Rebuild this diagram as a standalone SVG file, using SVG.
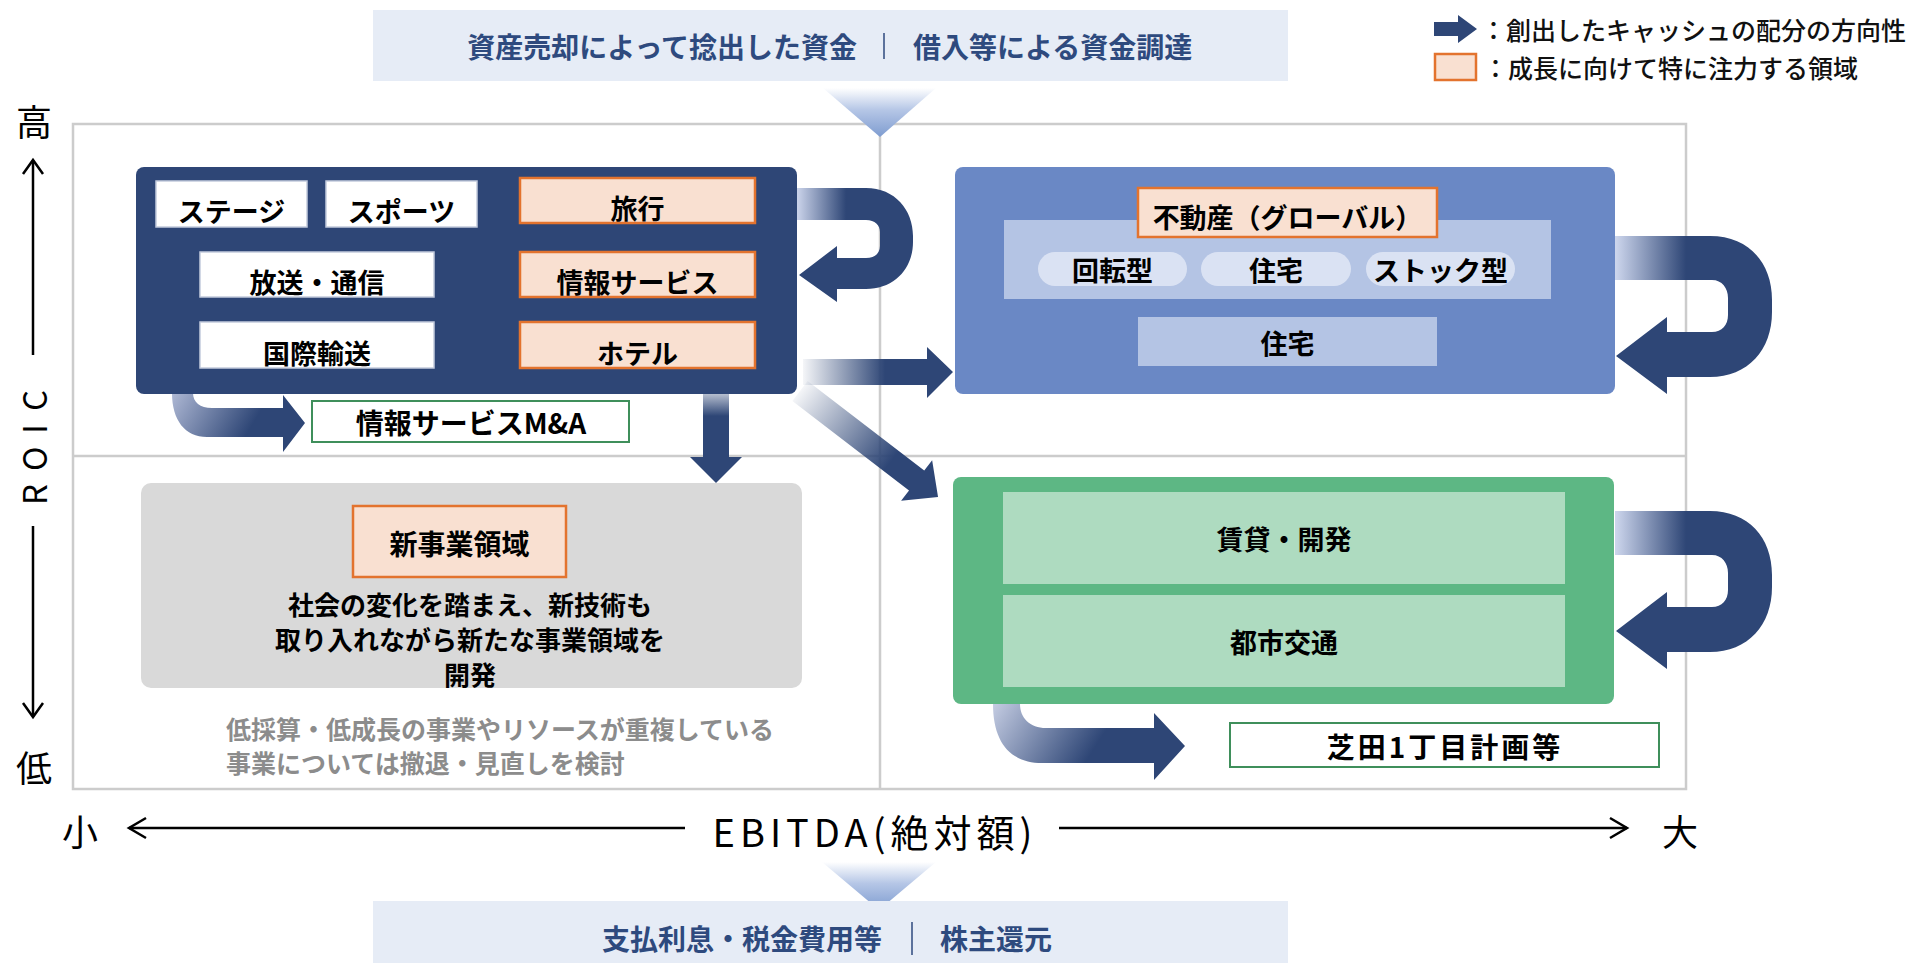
<svg xmlns="http://www.w3.org/2000/svg" width="1919" height="963" viewBox="0 0 1919 963">
<defs>
<style>
text{font-family:"Noto Sans CJK JP","Noto Sans",sans-serif;}
.lbl{font-size:27px;font-weight:700;fill:#000;text-anchor:middle;dominant-baseline:central;}
.ban{font-size:28px;font-weight:700;fill:#2E4A7E;dominant-baseline:central;}
.leg{font-size:25px;font-weight:500;fill:#111;dominant-baseline:central;}
.ax{font-size:36px;font-weight:400;fill:#000;text-anchor:middle;dominant-baseline:central;}
.note{font-size:25px;font-weight:700;fill:#8C8C8C;dominant-baseline:central;}
.wbox{fill:#FFFFFF;stroke:#C3CBDD;stroke-width:1.5;}
.pbox{fill:#F9E0D1;stroke:#E3732E;stroke-width:2.5;}
.gbox{fill:#FFFFFF;stroke:#3F8F5B;stroke-width:2;}
.pill{fill:#DAE2F3;}
.band{fill:#B4C4E4;}
.mint{fill:#AEDBC0;}
.navy{fill:#2E4676;}
.axl{stroke:#000;stroke-width:2.5;fill:none;}
.frm{stroke:#CCCCCC;stroke-width:2.5;fill:none;}
</style>
<linearGradient id="tri" x1="0" y1="0" x2="0" y2="1">
<stop offset="0" stop-color="#FFFFFF"/>
<stop offset="0.45" stop-color="#B5C6E6"/>
<stop offset="1" stop-color="#7E9CD0"/>
</linearGradient>
<linearGradient id="gUL" gradientUnits="userSpaceOnUse" x1="798" y1="0" x2="846" y2="0">
<stop offset="0" stop-color="#C8D1E8"/>
<stop offset="1" stop-color="#2E4676"/>
</linearGradient>
<linearGradient id="gUR" gradientUnits="userSpaceOnUse" x1="1616" y1="0" x2="1686" y2="0">
<stop offset="0" stop-color="#CCD5EC"/>
<stop offset="1" stop-color="#2E4676"/>
</linearGradient>
<linearGradient id="gR" gradientUnits="userSpaceOnUse" x1="803" y1="0" x2="885" y2="0">
<stop offset="0" stop-color="#2E4676" stop-opacity="0.05"/>
<stop offset="1" stop-color="#2E4676"/>
</linearGradient>
<linearGradient id="gD" gradientUnits="userSpaceOnUse" x1="0" y1="394" x2="0" y2="416">
<stop offset="0" stop-color="#2E4676" stop-opacity="0.35"/>
<stop offset="1" stop-color="#2E4676"/>
</linearGradient>
<linearGradient id="gDiag" gradientUnits="userSpaceOnUse" x1="0" y1="0" x2="115" y2="0">
<stop offset="0" stop-color="#2E4676" stop-opacity="0.05"/>
<stop offset="1" stop-color="#2E4676"/>
</linearGradient>
<linearGradient id="gMA" gradientUnits="userSpaceOnUse" x1="172" y1="393" x2="245" y2="437">
<stop offset="0" stop-color="#AEB8D4"/>
<stop offset="1" stop-color="#2E4676"/>
</linearGradient>
<linearGradient id="gGB" gradientUnits="userSpaceOnUse" x1="993" y1="704" x2="1085" y2="763">
<stop offset="0" stop-color="#C4CCE2"/>
<stop offset="1" stop-color="#2E4676"/>
</linearGradient>
</defs>

<rect width="1919" height="963" fill="#FFFFFF"/>

<!-- frame -->
<g id="frame">
<rect class="frm" x="73" y="124" width="1613" height="665"/>
<line class="frm" x1="880" y1="124" x2="880" y2="789"/>
<line class="frm" x1="73" y1="456" x2="1686" y2="456"/>
</g>

<!-- top banner -->
<g id="top-banner">
<rect x="373" y="10" width="915" height="71" fill="#E6ECF6"/>
<text class="ban" x="857" y="46" text-anchor="end">資産売却によって捻出した資金</text>
<line x1="884" y1="33" x2="884" y2="59" stroke="#2E4A7E" stroke-width="1.5"/>
<text class="ban" x="913" y="46">借入等による資金調達</text>
<polygon points="823,88 936,88 880,137" fill="url(#tri)"/>
</g>

<!-- legend -->
<g id="legend">
<polygon class="navy" points="1434,22 1458,22 1458,15 1477,29 1458,43 1458,36 1434,36"/>
<text class="leg" x="1481" y="29">：創出したキャッシュの配分の方向性</text>
<rect class="pbox" x="1435" y="54" width="41" height="26" stroke-width="2"/>
<text class="leg" x="1483" y="67">：成長に向けて特に注力する領域</text>
</g>

<!-- connectors -->
<g id="connectors">
<path class="navy" d="M797,188 H866 C895,188 913,210 913,236 V242 C913,268 895,289 866,289 H837 V302 L799,275 L837,246 V258 H866 C875,258 880,253 880,246 V232 C880,225 875,220 866,220 H797 Z"/>
<rect x="797" y="188" width="52" height="32" fill="url(#gUL)"/>
<path class="navy" d="M1615,236 H1710 C1748,236 1772,262 1772,300 V312 C1772,350 1748,377 1710,377 H1667 V394 L1616,356 L1667,317 V332 H1712 C1722,332 1728,325 1728,315 V298 C1728,288 1722,280 1712,280 H1615 Z"/>
<rect x="1615" y="236" width="72" height="44" fill="url(#gUR)"/>
<g transform="translate(0,275)">
<path class="navy" d="M1615,236 H1710 C1748,236 1772,262 1772,300 V312 C1772,350 1748,377 1710,377 H1667 V394 L1616,356 L1667,317 V332 H1712 C1722,332 1728,325 1728,315 V298 C1728,288 1722,280 1712,280 H1615 Z"/>
<rect x="1615" y="236" width="72" height="44" fill="url(#gUR)"/>
</g>
<polygon points="803,359 927,359 927,347 953,372 927,398 927,385 803,385" fill="url(#gR)"/>
<polygon points="703,394 729,394 729,457 742,457 716,483 690,457 703,457" fill="url(#gD)"/>
<g transform="translate(800,391) rotate(37.5)">
<polygon points="0,-12.5 147,-12.5 147,-25.5 174,0 147,25.5 147,12.5 0,12.5" fill="url(#gDiag)"/>
</g>
<path d="M172,393 C172,420 185,437 207,437 H283 V452 L305,423 L283,395 V408 H212 C200,408 193,402 193,393 Z" fill="url(#gMA)"/>
<path d="M993,704 C993,742 1010,763 1042,763 H1154 V780 L1185,746 L1154,713 V728 H1046 C1030,728 1020,718 1020,704 Z" fill="url(#gGB)"/>
</g>

<!-- left-top business group -->
<g id="node-left-top">
<rect class="navy" x="136" y="167" width="661" height="227" rx="8"/>
<rect class="wbox" x="156" y="181" width="151" height="46"/>
<text class="lbl" x="231.5" y="210">ステージ</text>
<rect class="wbox" x="326" y="181" width="151" height="46"/>
<text class="lbl" x="401.5" y="210">スポーツ</text>
<rect class="pbox" x="520" y="178" width="235" height="45"/>
<text class="lbl" x="637.5" y="207">旅行</text>
<rect class="wbox" x="200" y="252" width="234" height="45"/>
<text class="lbl" x="317" y="281">放送・通信</text>
<rect class="pbox" x="520" y="252" width="235" height="45"/>
<text class="lbl" x="637.5" y="281">情報サービス</text>
<rect class="wbox" x="200" y="322" width="234" height="46"/>
<text class="lbl" x="317" y="352">国際輸送</text>
<rect class="pbox" x="520" y="322" width="235" height="46"/>
<text class="lbl" x="637.5" y="352">ホテル</text>
</g>

<g id="node-ma">
<rect class="gbox" x="312" y="401" width="317" height="41"/>
<text class="lbl" x="471" y="422" style="font-size:28px">情報サービスM&amp;A</text>
</g>

<!-- right-top real estate -->
<g id="node-right-top">
<rect x="955" y="167" width="660" height="227" rx="8" fill="#6A88C5"/>
<rect class="band" x="1004" y="220" width="547" height="79"/>
<rect class="pbox" x="1138" y="188" width="299" height="49"/>
<text class="lbl" x="1287.5" y="216">不動産（グローバル）</text>
<rect class="pill" x="1038" y="252" width="149" height="34" rx="17"/>
<text class="lbl" x="1112.5" y="269">回転型</text>
<rect class="pill" x="1201" y="252" width="150" height="34" rx="17"/>
<text class="lbl" x="1276" y="269">住宅</text>
<rect class="pill" x="1366" y="252" width="149" height="34" rx="17"/>
<text class="lbl" x="1440.5" y="269">ストック型</text>
<rect class="band" x="1138" y="317" width="299" height="49"/>
<text class="lbl" x="1287.5" y="342">住宅</text>
</g>

<!-- left-bottom new business -->
<g id="node-left-bottom">
<rect x="141" y="483" width="661" height="205" rx="10" fill="#D9D9D9"/>
<rect class="pbox" x="353" y="506" width="213" height="71"/>
<text class="lbl" x="459.5" y="543" style="font-size:28px">新事業領域</text>
<text class="lbl" x="470" y="603" style="font-size:26px">社会の変化を踏まえ、新技術も</text>
<text class="lbl" x="470" y="638" style="font-size:26px">取り入れながら新たな事業領域を</text>
<text class="lbl" x="470" y="673" style="font-size:26px">開発</text>
</g>

<g id="note-left-bottom">
<text class="note" x="226" y="728">低採算・低成長の事業やリソースが重複している</text>
<text class="note" x="226" y="762">事業については撤退・見直しを検討</text>
</g>

<!-- right-bottom green group -->
<g id="node-right-bottom">
<rect x="953" y="477" width="661" height="227" rx="8" fill="#5DB784"/>
<rect class="mint" x="1003" y="492" width="562" height="92"/>
<text class="lbl" x="1284" y="538">賃貸・開発</text>
<rect class="mint" x="1003" y="595" width="562" height="92"/>
<text class="lbl" x="1284" y="641">都市交通</text>
</g>

<g id="node-shibata">
<rect class="gbox" x="1230" y="723" width="429" height="44"/>
<text class="lbl" x="1445" y="746" style="font-size:28px;letter-spacing:3px">芝田1丁目計画等</text>
</g>

<!-- vertical axis -->
<g id="axis-roic">
<text class="ax" x="34" y="120">高</text>
<line class="axl" x1="33" y1="160" x2="33" y2="355"/>
<polyline class="axl" points="23,174 33,160 43,174"/>
<text class="ax" transform="translate(33,441) rotate(-90)" style="font-size:33px;letter-spacing:13px">ROIC</text>
<line class="axl" x1="33" y1="526" x2="33" y2="717"/>
<polyline class="axl" points="23,703 33,717 43,703"/>
<text class="ax" x="34" y="766">低</text>
</g>

<!-- horizontal axis -->
<g id="axis-ebitda">
<text class="ax" x="80" y="830">小</text>
<line class="axl" x1="129" y1="828" x2="685" y2="828" stroke-width="3"/>
<polyline class="axl" points="146,818 129,828 146,838"/>
<text class="ax" x="875" y="830" style="font-size:38px;letter-spacing:5px">EBITDA(絶対額)</text>
<line class="axl" x1="1059" y1="828" x2="1627" y2="828" stroke-width="3"/>
<polyline class="axl" points="1610,818 1627,828 1610,838"/>
<text class="ax" x="1680" y="830">大</text>
</g>

<!-- bottom banner -->
<g id="bottom-banner">
<polygon points="822,862 936,862 879,910" fill="url(#tri)"/>
<rect x="373" y="901" width="915" height="62" fill="#E6ECF6"/>
<text class="ban" x="882" y="938" text-anchor="end">支払利息・税金費用等</text>
<line x1="912" y1="922" x2="912" y2="955" stroke="#2E4A7E" stroke-width="1.5"/>
<text class="ban" x="940" y="938">株主還元</text>
</g>
</svg>
